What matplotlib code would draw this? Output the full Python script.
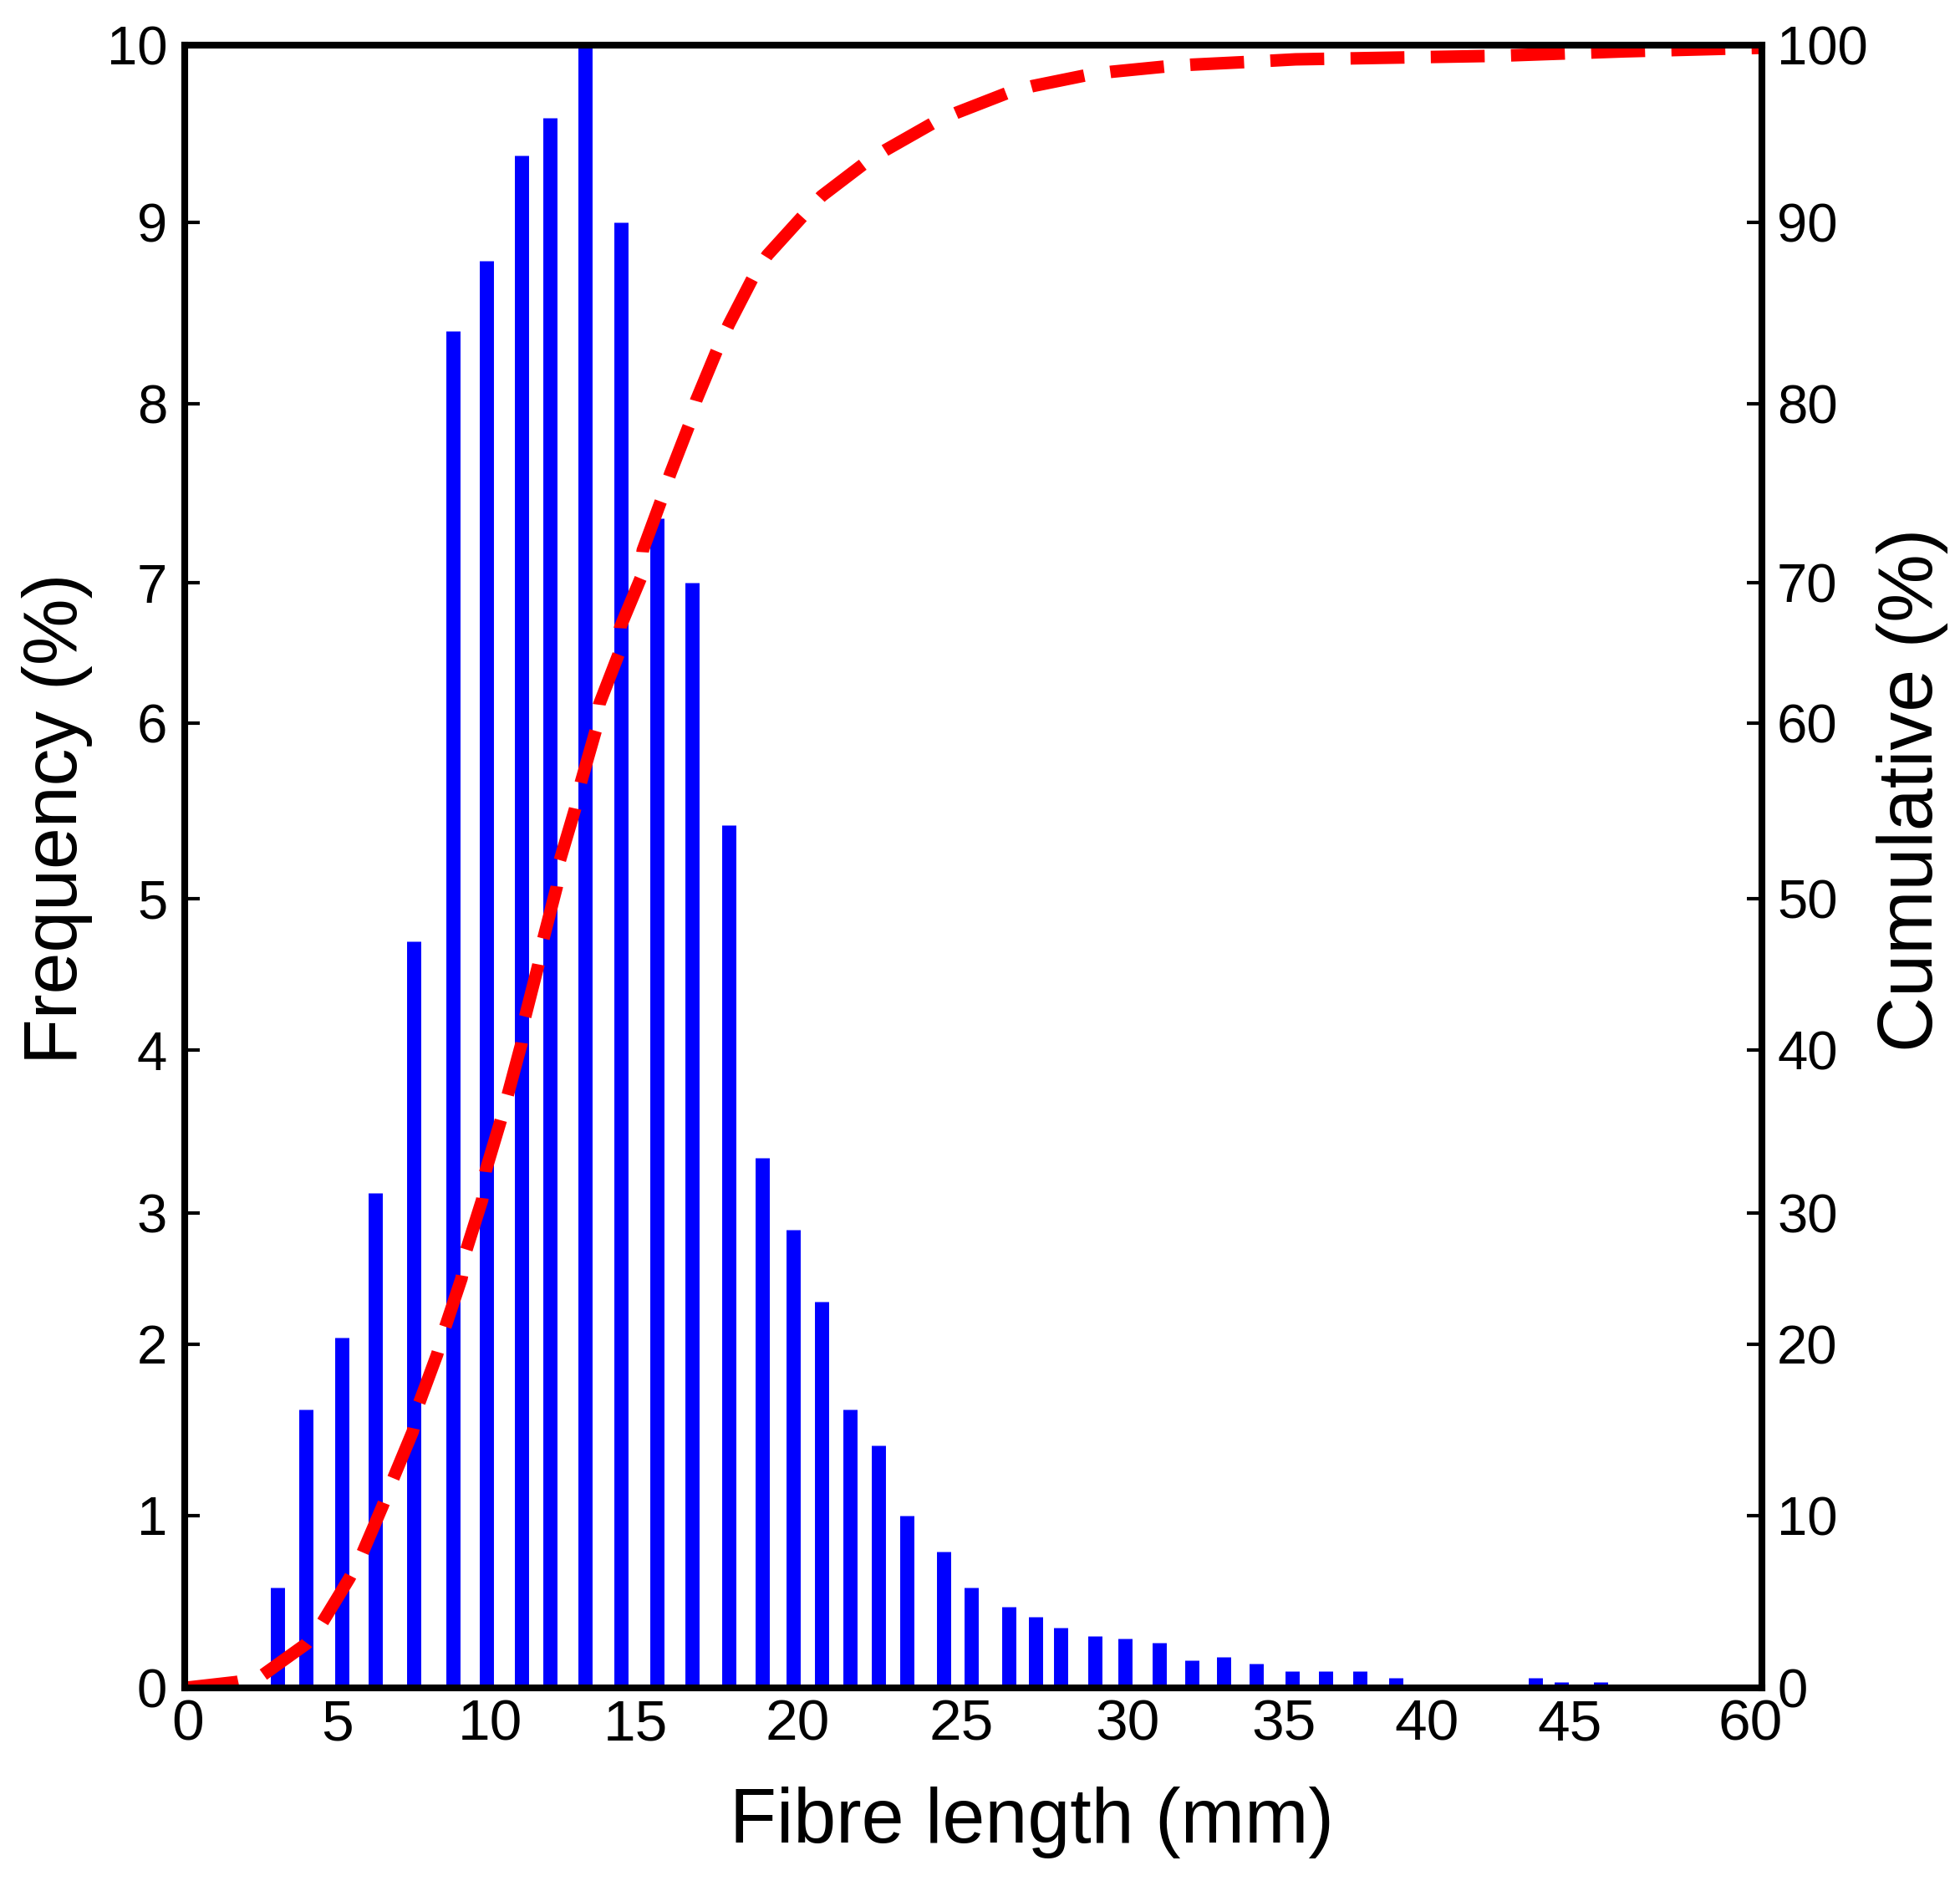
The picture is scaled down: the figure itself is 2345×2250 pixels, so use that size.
import numpy as np
import matplotlib
matplotlib.use("Agg")
import matplotlib.pyplot as plt
import matplotlib.transforms as mtransforms

plt.rcParams['font.family'] = ['Liberation Sans', 'DejaVu Sans']

# ---------------- data ----------------
fibre_length_mm = [3.02, 3.96, 5.14, 6.24, 7.51, 8.79, 9.89, 11.09, 12.07, 13.28,
                   14.51, 15.67, 16.75, 17.89, 18.91, 19.86, 20.73, 21.61, 22.47, 23.34,
                   24.46, 25.30, 26.43, 27.24, 27.99, 29.02, 29.92, 31.02, 32.06, 33.07,
                   34.12, 35.29, 36.46, 37.66, 38.92, 43.80, 44.71, 47.41]
frequency_pct = [0.58, 1.62, 2.05, 3.12, 4.72, 8.40, 8.79, 9.38, 9.59, 10.0,
                 9.00, 7.36, 7.00, 5.42, 3.34, 2.87, 2.32, 1.62, 1.41, 1.00,
                 0.79, 0.58, 0.47, 0.41, 0.35, 0.30, 0.285, 0.26, 0.16, 0.18,
                 0.14, 0.095, 0.095, 0.095, 0.06, 0.06, 0.035, 0.035]

cum_length_mm = [0.0, 1.69, 2.46, 3.99, 4.48, 5.38, 5.82, 6.48, 6.81, 7.47, 7.66, 8.27,
                 8.52, 9.07, 9.23, 9.75, 9.86, 10.37, 10.63, 11.09, 11.21, 11.67, 11.84,
                 12.30, 12.41, 12.93, 13.13, 13.65, 13.76, 14.43, 14.48, 15.18, 15.23,
                 15.80, 16.08, 16.68, 16.88, 17.53, 17.89, 18.61, 19.07, 20.18, 20.74,
                 22.02, 22.70, 24.13, 24.87, 26.38, 27.16, 28.74, 29.52, 31.23, 32.06,
                 33.80, 35.41, 42.52, 49.3, 60.0]
cumulative_pct = [0.0, 0.34, 0.63, 2.57, 3.73, 6.34, 7.84, 10.56, 12.08, 14.9, 16.47, 19.4,
                  21.19, 25.0, 27.17, 30.8, 32.55, 35.64, 37.34, 40.45, 42.17, 45.65, 47.36,
                  50.68, 52.2, 55.1, 56.6, 59.6, 61.3, 64.9, 66.8, 70.3, 71.8,
                  74.6, 76.1, 78.9, 80.2, 83.0, 84.4, 86.9, 88.2, 90.4, 91.5,
                  93.3, 94.1, 95.6, 96.2, 97.3, 97.7, 98.3, 98.5, 98.8, 98.9,
                  99.05, 99.2, 99.4, 99.65, 99.85]

x_ticks = [0, 5, 10, 15, 20, 25, 30, 35, 40, 45, 60]
x_tick_labels = ['0', '5', '10', '15', '20', '25', '30', '35', '40', '45', '60']
freq_ticks = [0, 1, 2, 3, 4, 5, 6, 7, 8, 9, 10]
cum_ticks = [0, 10, 20, 30, 40, 50, 60, 70, 80, 90, 100]

# axis graduation as drawn in the original (uneven spacing), in pixels
x_grad_px = [221, 404, 586, 760, 954, 1150, 1349, 1536, 1707, 1878, 2108]
y_grad_px = [0, 206.5, 411.3, 568.4, 762.8, 943.7, 1154.6, 1322.1, 1536, 1752.8, 1965.2]


def make_warp(vals, pos):
    vals = np.asarray(vals, float)
    pos = np.asarray(pos, float)
    s0 = (pos[1] - pos[0]) / (vals[1] - vals[0])
    s1 = (pos[-1] - pos[-2]) / (vals[-1] - vals[-2])
    big = 1e6
    v = np.concatenate([[vals[0] - big], vals, [vals[-1] + big]])
    p = np.concatenate([[pos[0] - big * s0], pos, [pos[-1] + big * s1]])

    def fwd(a):
        return np.interp(np.asarray(a, float), v, p)

    def inv(a):
        return np.interp(np.asarray(a, float), p, v)
    return fwd, inv


W, H = 2345, 2250
fig = plt.figure(figsize=(W / 100, H / 100), dpi=100)
ax = fig.add_axes([221 / W, 1 - 2019 / H, (2108 - 221) / W, (2019 - 54) / H])

ax.set_xscale('function', functions=make_warp(x_ticks, x_grad_px))
ax.set_yscale('function', functions=make_warp(freq_ticks, y_grad_px))
ax.set_xlim(0, 60)
ax.set_ylim(0, 10)

bars = ax.vlines(fibre_length_mm, 0, frequency_pct, colors='#0000FF', linewidth=12.2, zorder=2)
bars.set_capstyle('butt')

ax.set_xticks(x_ticks)
ax.set_xticklabels(x_tick_labels)
ax.set_yticks(freq_ticks)
ax.set_yticklabels([str(t) for t in freq_ticks])
ax.xaxis.set_minor_locator(matplotlib.ticker.NullLocator())
ax.yaxis.set_minor_locator(matplotlib.ticker.NullLocator())
ax.tick_params(axis='x', length=0, pad=9, labelsize=50)
ax.tick_params(axis='y', direction='in', length=13, width=3, pad=15, labelsize=47, right=False)

# nudge the last x label slightly inward, as in the original
lbls = ax.get_xticklabels()
last = lbls[-1]
last.set_transform(last.get_transform() + mtransforms.ScaledTranslation(-14 / 100, 0, fig.dpi_scale_trans))
first = lbls[0]
first.set_transform(first.get_transform() + mtransforms.ScaledTranslation(4 / 100, 0, fig.dpi_scale_trans))

ax2 = ax.twinx()
ax2.set_yscale('function', functions=make_warp(cum_ticks, y_grad_px))
ax2.set_ylim(0, 100)
ax2.set_yticks(cum_ticks)
ax2.set_yticklabels([str(t) for t in cum_ticks])
ax2.yaxis.set_minor_locator(matplotlib.ticker.NullLocator())
ax2.tick_params(axis='y', direction='in', length=13, width=3, pad=13, labelsize=47)

line, = ax2.plot(cum_length_mm, cumulative_pct, color='#FF0000', linewidth=10.8,
                 dashes=(4.3, 2.1), dash_capstyle='butt', solid_capstyle='butt')

for a in (ax, ax2):
    for sp in a.spines.values():
        sp.set_linewidth(5.8)
        sp.set_color('black')

ax.set_xlabel('Fibre length (mm)', fontsize=66)
ax.xaxis.label.set_va('center')
ax.xaxis.set_label_coords(0.537, -0.082)
ax.set_ylabel('Frequency (%)', fontsize=64.5)
ax.yaxis.label.set_va('center')
ax.yaxis.set_label_coords(-0.0806, 0.529)
ax2.set_ylabel('Cumulative (%)', fontsize=66, rotation=90)
ax2.yaxis.label.set_va('center')
ax2.yaxis.set_label_coords(1.0954, 0.5466)

fig.savefig('out.png', dpi=100, facecolor='white')
